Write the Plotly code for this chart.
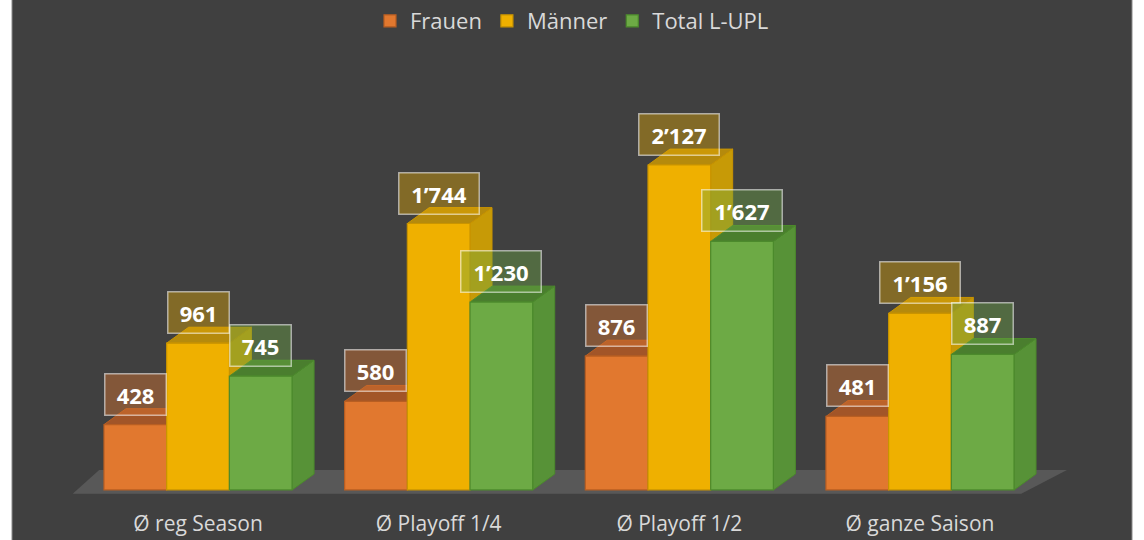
import plotly.graph_objects as go

# ---- data ----
categories = ["Ø reg Season", "Ø Playoff 1/4", "Ø Playoff 1/2", "Ø ganze Saison"]
series_names = ["Frauen", "Männer", "Total L-UPL"]
frauen = [428, 580, 876, 481]
maenner = [961, 1744, 2127, 1156]
total = [745, 1230, 1627, 887]

# ---- styling ----
front_colors = ["#E1782F", "#EFB000", "#6DAA45"]
edge_colors = ["#B85E22", "#C99400", "#4C8A2C"]
side_colors = ["#B9632A", "#C79A06", "#579237"]
top_colors = ["#A25528", "#B58A0C", "#4A7E2E"]
label_bg = ["rgba(225,120,47,0.42)", "rgba(239,176,0,0.38)", "rgba(109,170,69,0.40)"]

BG = "#404040"
FONT = "Open Sans"
bar_w = 0.2605
depth_dx = 0.0914
depth_dy = 104

values = [frauen, maenner, total]
xpos = list(range(len(categories)))

fig = go.Figure()

shapes = []
# dark background panel (leaves thin white strips on the sides)
shapes.append(dict(type="rect", xref="paper", yref="paper", x0=0, x1=1, y0=-1, y1=2,
                   fillcolor=BG, line=dict(color="#8a8a8a", width=1), layer="below"))

# floor
fl_x0 = xpos[0] - 1.5 * bar_w - 0.13
fl_x1 = xpos[-1] + 1.5 * bar_w + 0.03
floor_path = (f"M{fl_x0},-25 L{fl_x0 + 0.11},130 L{fl_x1 + 0.19},130 "
              f"L{fl_x1},-25 Z")
shapes.append(dict(type="path", xref="x", yref="y", path=floor_path,
                   fillcolor="#585858", line=dict(width=0), layer="below"))

for i in xpos:
    for j, vals in enumerate(values):
        v = vals[i]
        xc = i + (j - 1) * bar_w
        x0, x1 = xc - bar_w / 2, xc + bar_w / 2
        side = (f"M{x1},0 L{x1 + depth_dx},{depth_dy} L{x1 + depth_dx},{v + depth_dy} "
                f"L{x1},{v} Z")
        top = (f"M{x0},{v} L{x0 + depth_dx},{v + depth_dy} L{x1 + depth_dx},{v + depth_dy} "
               f"L{x1},{v} Z")
        shapes.append(dict(type="path", xref="x", yref="y", path=side,
                           fillcolor=side_colors[j], line=dict(color=edge_colors[j], width=1),
                           layer="below"))
        shapes.append(dict(type="path", xref="x", yref="y", path=top,
                           fillcolor=top_colors[j], line=dict(color=edge_colors[j], width=1),
                           layer="below"))

for j, (name, vals) in enumerate(zip(series_names, values)):
    fig.add_trace(go.Bar(
        name=name,
        x=[i + (j - 1) * bar_w for i in xpos],
        y=vals,
        width=bar_w,
        marker=dict(color=front_colors[j], line=dict(color=edge_colors[j], width=1.2)),
        hoverinfo="skip",
    ))

annotations = []
for i in xpos:
    for j, vals in enumerate(values):
        v = vals[i]
        txt = f"{v:,}".replace(",", "\u2019")
        ndig = sum(c.isdigit() for c in txt)
        w = 12 * ndig + 14 + (7 if "\u2019" in txt else 0)
        annotations.append(dict(
            x=i + (j - 1) * bar_w, y=v, xref="x", yref="y",
            text=f"<b>{txt}</b>", showarrow=False,
            yanchor="bottom", yshift=9, width=w, align="center",
            font=dict(family=FONT, size=22, color="#FFFFFF"),
            bgcolor=label_bg[j], bordercolor="rgba(255,255,255,0.55)",
            borderwidth=1.5, borderpad=5,
        ))

fig.update_layout(
    width=1144, height=540,
    margin=dict(l=12, r=12, t=40, b=45),
    paper_bgcolor="#FFFFFF",
    plot_bgcolor=BG,
    barmode="overlay",
    showlegend=True,
    legend=dict(orientation="h", x=0.5, xanchor="center", yref="container", y=1.0,
                yanchor="top", font=dict(family=FONT, size=22, color="#D9D9D9"),
                bgcolor="rgba(0,0,0,0)", itemwidth=30, traceorder="normal"),
    xaxis=dict(range=[-0.773, 3.881], tickvals=xpos, ticktext=categories,
               showgrid=False, zeroline=False, showline=False, automargin=False,
               ticks="outside", ticklen=10, tickcolor="rgba(0,0,0,0)",
               tickfont=dict(family=FONT, size=21, color="#D9D9D9"), fixedrange=True),
    yaxis=dict(range=[-33, 2932], visible=False, showgrid=False, zeroline=False,
               automargin=False, fixedrange=True),
    shapes=shapes,
    annotations=annotations,
    font=dict(family=FONT),
)

fig.write_html("out.html")
